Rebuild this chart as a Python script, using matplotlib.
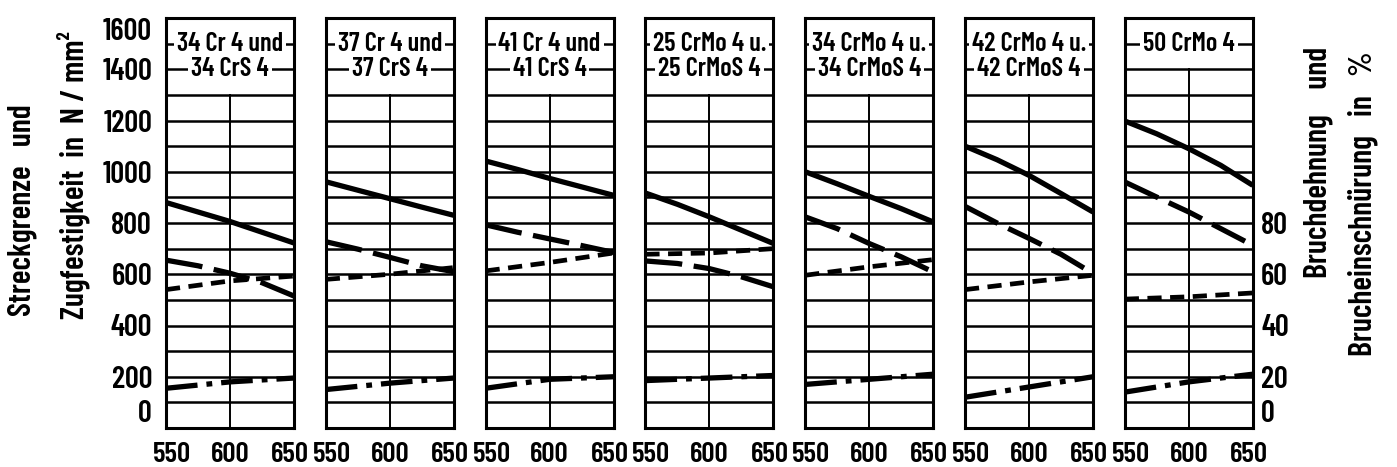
import matplotlib
matplotlib.use("Agg")
import matplotlib.pyplot as plt
import matplotlib.transforms as mtransforms

plt.rcParams['font.family'] = ['Barlow Condensed', 'DejaVu Sans']
plt.rcParams['font.weight'] = 'semibold'

# Anlasstemperatur in °C
temp = [550, 600, 650]
temp5 = [550, 575, 600, 625, 650]

# panel titles (two lines, last panel only one)
titles = [
    ["34 Cr 4 und", "34 CrS 4"],
    ["37 Cr 4 und", "37 CrS 4"],
    ["41 Cr 4 und", "41 CrS 4"],
    ["25 CrMo 4 u.", "25 CrMoS 4"],
    ["34 CrMo 4 u.", "34 CrMoS 4"],
    ["42 CrMo 4 u.", "42 CrMoS 4"],
    ["50 CrMo 4"],
]

# Zugfestigkeit N/mm2 (solid), at temp5
zug = [
    [880, 843, 806, 764, 722],
    [961, 928, 895, 862, 830],
    [1042, 1009, 974, 941, 908],
    [917, 873, 824, 772, 720],
    [1000, 953, 904, 856, 804],
    [1100, 1047, 986, 915, 843],
    [1198, 1148, 1090, 1025, 947],
]
# Streckgrenze N/mm2 (long dashes), at temp5
streck = [
    [655, 633, 604, 567, 515],
    [727, 698, 666, 633, 610],
    [793, 764, 738, 712, 685],
    [652, 642, 622, 590, 551],
    [824, 778, 720, 668, 609],
    [865, 800, 740, 678, 603],
    [960, 901, 843, 778, 713],
]
# Brucheinschnuerung in % (short dashes), at temp
einschn = [
    [54, 57.4, 59.3],
    [58, 60, 62.6],
    [61.3, 64.6, 68.3],
    [67.8, 68.3, 70],
    [59.6, 62.9, 65.7],
    [54, 57, 59.6],
    [50.3, 51.2, 52.7],
]
# Bruchdehnung in % (dash dot), at temp
dehn = [
    [15.5, 18, 19.5],
    [15, 17.5, 19.5],
    [15.5, 19, 20],
    [18.5, 19.5, 20.5],
    [17, 19, 21],
    [12, 16, 20],
    [14, 18, 21],
]

W, H = 1397, 467
fig = plt.figure(figsize=(W/100, H/100), dpi=100)

for i in range(7):
    left = 166 + 159.8*i
    ax = fig.add_axes([left/W, 39/H, 128/W, 410/H])
    ax.set_xlim(550, 650)
    ax.set_ylim(0, 1600)
    for s in ax.spines.values():
        s.set_linewidth(2.2)

    boxbottom = 1300 if len(titles[i]) == 2 else 1400
    for y in range(100, 1600, 100):
        ax.axhline(y, color='black', lw=1.8, zorder=1)
    ax.plot([600, 600], [0, boxbottom], color='black', lw=1.4, zorder=1)

    # title lines sit on the grid lines above the box bottom, grid only shows at the sides
    for k, t in enumerate(titles[i]):
        ax.text(600, 1500 - 100*k, t, ha='center', va='center', fontsize=19,
                bbox=dict(facecolor='white', edgecolor='none', pad=2), zorder=3)

    ax.plot(temp5, zug[i], color='black', lw=3.8, solid_capstyle='butt', zorder=4)
    ax.plot(temp5, streck[i], color='black', lw=3.8, dashes=(7, 2.2), zorder=4)

    ax2 = ax.twinx()
    ax2.set_ylim(0, 160)
    ax2.set_xlim(550, 650)
    ax2.plot(temp, einschn[i], color='black', lw=3.4, dashes=(3, 1.8), zorder=4)
    ax2.plot(temp, dehn[i], color='black', lw=3.8, dashes=(6, 1.7, 1.1, 1.7), zorder=4)
    for s in ax2.spines.values():
        s.set_visible(False)

    ax.set_xticks(temp)
    ax.set_xticklabels([str(t) for t in temp], fontsize=21)
    ax.tick_params(axis='x', length=0, pad=10)
    # nudge outer labels apart so neighbouring panels do not collide
    for lab, dx in zip(ax.get_xticklabels(), [6, 0, -4]):
        lab.set_transform(lab.get_transform() + mtransforms.ScaledTranslation(dx/100, 0, fig.dpi_scale_trans))
    if i == 0:
        ax.set_yticks(range(0, 1601, 200))
        ax.set_yticklabels([str(v) for v in range(0, 1601, 200)], fontsize=22)
        ax.tick_params(axis='y', length=0, pad=10)
        ylabs = ax.get_yticklabels()
        ylabs[0].set_va('bottom')
        ylabs[-1].set_va('top')
    else:
        ax.set_yticks([])
    if i == 6:
        ax2.set_yticks([0, 20, 40, 60, 80])
        ax2.set_yticklabels(['0', '20', '40', '60', '80'], fontsize=22)
        ax2.tick_params(axis='y', length=0, pad=6)
        ax2.get_yticklabels()[0].set_va('bottom')
    else:
        ax2.set_yticks([])

fig.text(22/W, 1 - 210/H, "Streckgrenze   und", rotation=90, ha='center', va='center', fontsize=23)
fig.text(73/W, 1 - 175/H, "Zugfestigkeit  in  N / mm²", rotation=90, ha='center', va='center', fontsize=23)
fig.text(1318/W, 1 - 162/H, "Bruchdehnung    und", rotation=90, ha='center', va='center', fontsize=23)
fig.text(1363/W, 1 - 204/H, "Brucheinschnürung   in   %", rotation=90, ha='center', va='center', fontsize=23)

fig.savefig("out.png", dpi=100)
